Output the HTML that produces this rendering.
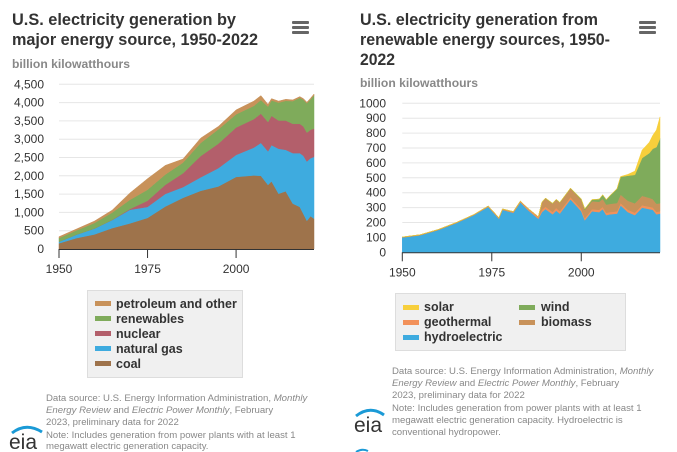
<!DOCTYPE html>
<html><head><meta charset="utf-8">
<style>
body{margin:0;background:#fff;}
svg{display:block;font-family:"Liberation Sans",Arial,sans-serif;}
.tick{font-size:12px;fill:#333;}
.leg{font-size:12.5px;font-weight:bold;fill:#333;}
.foot{font-size:9.6px;fill:#888;}
</style></head>
<body>
<svg id="svg" width="677" height="452" viewBox="0 0 677 452">
  <text x="12" y="25" font-size="17" font-weight="bold" fill="#333" textLength="224" lengthAdjust="spacingAndGlyphs">U.S. electricity generation by</text>
  <text x="12" y="45" font-size="17" font-weight="bold" fill="#333" textLength="246" lengthAdjust="spacingAndGlyphs">major energy source, 1950-2022</text>
  <text x="12" y="68" font-size="12" font-weight="bold" fill="#888" textLength="118" lengthAdjust="spacingAndGlyphs">billion kilowatthours</text>
  <g fill="#666">
    <rect x="292" y="21" width="17" height="3" rx="1"/><rect x="292" y="26" width="17" height="3" rx="1"/><rect x="292" y="31" width="17" height="3" rx="1"/>
  </g>
  <text x="360" y="25" font-size="17" font-weight="bold" fill="#333" textLength="238" lengthAdjust="spacingAndGlyphs">U.S. electricity generation from</text>
  <text x="360" y="45" font-size="17" font-weight="bold" fill="#333" textLength="250" lengthAdjust="spacingAndGlyphs">renewable energy sources, 1950-</text>
  <text x="360" y="65" font-size="17" font-weight="bold" fill="#333" textLength="35" lengthAdjust="spacingAndGlyphs">2022</text>
  <text x="360" y="87" font-size="12" font-weight="bold" fill="#888" textLength="118" lengthAdjust="spacingAndGlyphs">billion kilowatthours</text>
  <g fill="#666">
    <rect x="639" y="21" width="17" height="3" rx="1"/><rect x="639" y="26" width="17" height="3" rx="1"/><rect x="639" y="31" width="17" height="3" rx="1"/>
  </g>
  <g id="left"></g>
  <g id="right"></g>

  <g>
    <rect x="87.5" y="290.5" width="155" height="87" fill="#f0f0f0" stroke="#ddd"/>
    <g><rect x="95" y="301" width="16" height="5" fill="#c8925a"/><text class="leg" x="116" y="308">petroleum and other</text></g>
    <g><rect x="95" y="316" width="16" height="5" fill="#7fab5b"/><text class="leg" x="116" y="323">renewables</text></g>
    <g><rect x="95" y="331" width="16" height="5" fill="#b35f6b"/><text class="leg" x="116" y="338">nuclear</text></g>
    <g><rect x="95" y="346" width="16" height="5" fill="#3eabdf"/><text class="leg" x="116" y="353">natural gas</text></g>
    <g><rect x="95" y="361" width="16" height="5" fill="#9e734b"/><text class="leg" x="116" y="368">coal</text></g>
  </g>
  <g>
    <rect x="395.5" y="293.5" width="230" height="57" fill="#f0f0f0" stroke="#ddd"/>
    <g><rect x="403" y="305" width="16" height="5" fill="#f7cf3c"/><text class="leg" x="424" y="311">solar</text></g>
    <g><rect x="403" y="320" width="16" height="5" fill="#f2915a"/><text class="leg" x="424" y="326">geothermal</text></g>
    <g><rect x="403" y="335" width="16" height="5" fill="#3eabdf"/><text class="leg" x="424" y="341">hydroelectric</text></g>
    <g><rect x="519" y="305" width="16" height="5" fill="#7fab5b"/><text class="leg" x="541" y="311">wind</text></g>
    <g><rect x="519" y="320" width="16" height="5" fill="#c8925a"/><text class="leg" x="541" y="326">biomass</text></g>
  </g>

  <g class="foot">
    <text class="foot" x="46" y="401">Data source: U.S. Energy Information Administration, <tspan font-style="italic">Monthly</tspan></text>
    <text class="foot" x="46" y="413"><tspan font-style="italic">Energy Review</tspan> and <tspan font-style="italic">Electric Power Monthly</tspan>, February</text>
    <text class="foot" x="46" y="425">2023, preliminary data for 2022</text>
    <text class="foot" x="46" y="438">Note: Includes generation from power plants with at least 1</text>
    <text class="foot" x="46" y="449">megawatt electric generation capacity.</text>
  </g>
  <g>
    <text class="foot" x="392" y="374">Data source: U.S. Energy Information Administration, <tspan font-style="italic">Monthly</tspan></text>
    <text class="foot" x="392" y="386"><tspan font-style="italic">Energy Review</tspan> and <tspan font-style="italic">Electric Power Monthly</tspan>, February</text>
    <text class="foot" x="392" y="398">2023, preliminary data for 2022</text>
    <text class="foot" x="392" y="411">Note: Includes generation from power plants with at least 1</text>
    <text class="foot" x="392" y="423">megawatt electric generation capacity. Hydroelectric is</text>
    <text class="foot" x="392" y="435">conventional hydropower.</text>
  </g>
  <g>
    <path d="M12 433 Q26 422 42 432" stroke="#1b9ad6" stroke-width="3" fill="none"/>
    <text x="9" y="449" font-size="21" fill="#333">eia</text>
  </g>
  <g>
    <path d="M356 416 Q370 405 384 415" stroke="#1b9ad6" stroke-width="3" fill="none"/>
    <text x="354" y="432" font-size="21" fill="#333">eia</text>
    <path d="M356 452 Q362 448 368 451" stroke="#1b9ad6" stroke-width="2" fill="none"/>
  </g>
</svg>
<script>
// ---- Left chart data (billion kWh) ----
const leftYears = [1950,1955,1960,1965,1970,1975,1980,1985,1990,1995,2000,2005,2007,2009,2010,2012,2014,2016,2018,2019,2020,2021,2022];
const coal      = [155,300,400,570,700,850,1160,1400,1590,1710,1970,2010,2000,1750,1850,1510,1580,1240,1150,960,770,900,830];
const natGas    = [45,95,160,220,370,300,345,290,370,500,600,760,900,920,990,1230,1130,1380,1470,1590,1620,1580,1690];
const nuclear   = [0,0,1,4,22,170,250,380,580,670,750,780,800,800,800,770,800,800,800,800,790,780,770];
const renewables= [100,115,150,200,250,300,280,290,360,390,360,360,370,420,420,490,540,620,710,730,800,830,910];
const petroleum = [35,40,50,65,185,300,250,100,130,80,120,130,120,60,50,40,40,35,35,30,30,30,35];
const leftTicks = [0,500,1000,1500,2000,2500,3000,3500,4000,4500];
const leftTickLabels = ["0","500","1,000","1,500","2,000","2,500","3,000","3,500","4,000","4,500"];
const xTickYears = [1950,1975,2000];

// ---- Right chart data (billion kWh) ----
const rightYears = [1950,1955,1960,1965,1970,1974,1977,1978,1981,1983,1985,1988,1989,1990,1992,1993,1994,1997,2000,2001,2003,2005,2006,2007,2008,2010,2011,2013,2015,2017,2019,2020,2021,2022];
const hydro      = [100,115,150,195,250,305,225,285,265,335,285,225,270,290,255,280,260,355,275,215,275,270,290,250,255,260,315,270,250,300,290,285,255,260];
const geothermal = [0,0,0,1,1,3,4,3,5,6,9,11,15,16,16,17,16,15,15,14,14,15,15,15,15,15,15,16,16,16,16,16,16,16];
const biomass    = [3,3,3,3,3,3,3,3,3,3,3,3,50,55,55,56,56,58,61,55,54,54,54,55,55,56,57,60,63,63,60,56,55,53];
const wind       = [0,0,0,0,0,0,0,0,0,0,0,0,2,3,3,3,3,3,6,7,11,18,27,34,55,95,120,168,191,254,300,338,380,435];
const solar      = [0,0,0,0,0,0,0,0,0,0,0,0,0,0,0,0,0,0,0,0,0,0,0,0,1,1,2,9,25,53,72,90,115,145];
const rightTicks = [0,100,200,300,400,500,600,700,800,900,1000];

const NS="http://www.w3.org/2000/svg";
function mk(tag,attrs,parent){const e=document.createElementNS(NS,tag);for(const k in attrs)e.setAttribute(k,attrs[k]);parent.appendChild(e);return e;}

function drawChart(g, cfg){
  const xS = y => cfg.x0 + (y-1950)*(cfg.x1-cfg.x0)/(2022-1950);
  const yS = v => cfg.y0 - v*(cfg.y0-cfg.yTop)/cfg.vMax;
  cfg.ticks.forEach((t,i)=>{
    if(t>0){const l=mk('line',{x1:cfg.x0,x2:cfg.x1,y1:yS(t),y2:yS(t),stroke:'#e6e6e6','stroke-width':1},g);
      
      }
    const tx=mk('text',{x:cfg.labelX,y:yS(t)+4,'text-anchor':'end',class:'tick'},g);
    tx.textContent=cfg.tickLabels[i];
    
    
  });
  let base = cfg.years.map(()=>0);
  cfg.series.forEach(s=>{
    const top = base.map((b,i)=>b+s.values[i]);
    let d='M'+cfg.years.map((y,i)=>xS(y).toFixed(1)+','+yS(top[i]).toFixed(1)).join('L');
    for(let i=cfg.years.length-1;i>=0;i--) d+='L'+xS(cfg.years[i]).toFixed(1)+','+yS(base[i]).toFixed(1);
    d+='Z';
    const p=mk('path',{d:d,fill:s.color,stroke:s.color,'stroke-width':0.5},g);
    
    
    base=top;
  });
  const ax=mk('line',{x1:cfg.x0,x2:cfg.x1,y1:cfg.y0+0.5,y2:cfg.y0+0.5,stroke:'#333','stroke-width':1},g);
  
  
  xTickYears.forEach(yr=>{
    const tk=mk('line',{x1:xS(yr),x2:xS(yr),y1:cfg.y0,y2:cfg.y0+9,stroke:'#333','stroke-width':1},g);
    
    
    const tl=mk('text',{x:xS(yr),y:cfg.y0+24,'text-anchor':'middle',class:'tick'},g);
    tl.textContent=String(yr);
    
    
  });
}

drawChart(document.getElementById('left'),{
  x0:59,x1:314,y0:249,yTop:84.3,vMax:4500,labelX:44,years:leftYears,
  ticks:leftTicks,tickLabels:leftTickLabels,
  series:[
    {name:'coal',values:coal,color:'#9e734b'},
    {name:'natural-gas',values:natGas,color:'#3eabdf'},
    {name:'nuclear',values:nuclear,color:'#b35f6b'},
    {name:'renewables',values:renewables,color:'#7fab5b'},
    {name:'petroleum-and-other',values:petroleum,color:'#c8925a'}
  ]});
drawChart(document.getElementById('right'),{
  x0:402.3,x1:660,y0:252.3,yTop:103.3,vMax:1000,labelX:386,years:rightYears,
  ticks:rightTicks,tickLabels:rightTicks.map(String),
  series:[
    {name:'hydroelectric',values:hydro,color:'#3eabdf'},
    {name:'geothermal',values:geothermal,color:'#f2915a'},
    {name:'biomass',values:biomass,color:'#c8925a'},
    {name:'wind',values:wind,color:'#7fab5b'},
    {name:'solar',values:solar,color:'#f7cf3c'}
  ]});
</script>
</body></html>
